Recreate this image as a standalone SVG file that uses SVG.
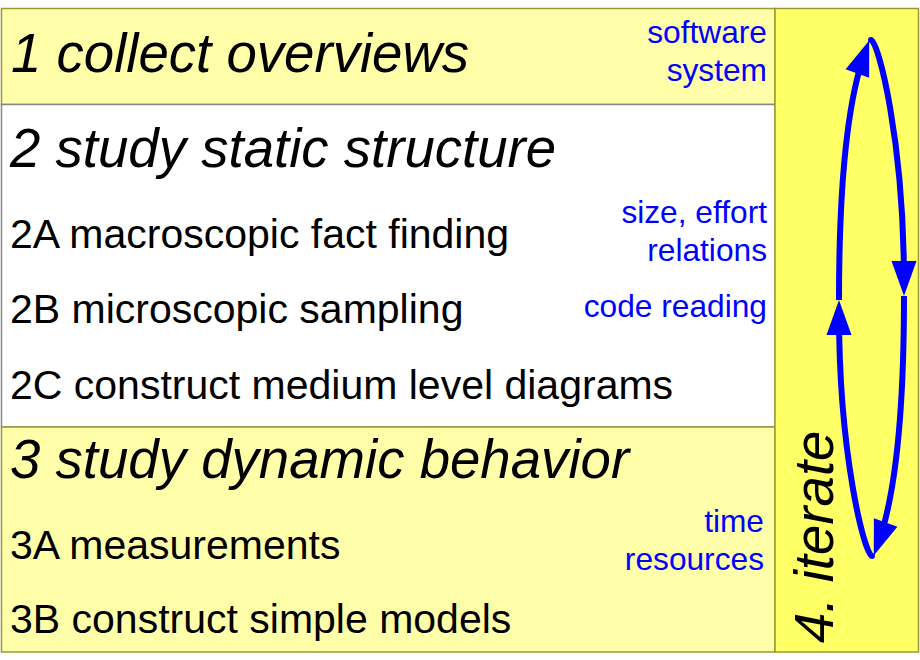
<svg xmlns="http://www.w3.org/2000/svg" width="920" height="660" viewBox="0 0 920 660">
<style>
  .title { font-family: "Liberation Sans", Arial, sans-serif; font-size: 54.6px; font-style: italic; fill: #000; }
  .item { font-family: "Liberation Sans", Arial, sans-serif; font-size: 41px; fill: #000; }
  .note { font-family: "Liberation Sans", Arial, sans-serif; font-size: 31.7px; fill: #0000ff; text-anchor: end; }
  .yellow { fill: #ffffaa; stroke: #999933; stroke-width: 1.5; }
  .white { fill: #ffffff; stroke: #888888; stroke-width: 1.5; }
  .col { fill: #ffff66; stroke: #999933; stroke-width: 1.5; }
  .loop { fill: none; stroke: #0000ff; stroke-width: 6; marker-end: url(#head); }
  .capped { stroke-linecap: round; }
</style>
<defs>
  <marker id="head" markerUnits="userSpaceOnUse" markerWidth="36" markerHeight="26" refX="22" refY="12.5" orient="auto" overflow="visible">
    <path d="M0,0 L35,12.5 L0,25 Z" fill="#0000ff"/>
  </marker>
</defs>
<rect x="0" y="0" width="920" height="660" fill="#ffffff"/>
<g id="step1">
  <rect class="yellow" x="1.5" y="8.5" width="773.5" height="96"/>
  <text class="title" x="11" y="72">1 collect overviews</text>
  <text class="note" x="767" y="43">software</text>
  <text class="note" x="767" y="81">system</text>
</g>
<g id="step2">
  <rect class="white" x="1.5" y="104.5" width="773.5" height="322.5"/>
  <text class="title" x="10" y="167">2 study static structure</text>
  <text class="item" x="10" y="248">2A macroscopic fact finding</text>
  <text class="item" x="10" y="323">2B microscopic sampling</text>
  <text class="item" x="10" y="399">2C construct medium level diagrams</text>
  <text class="note" x="767" y="223">size, effort</text>
  <text class="note" x="767" y="261">relations</text>
  <text class="note" x="767" y="317">code reading</text>
</g>
<g id="step3">
  <rect class="yellow" x="1.5" y="427" width="773.5" height="225"/>
  <text class="title" x="10" y="478">3 study dynamic behavior</text>
  <text class="item" x="10" y="559">3A measurements</text>
  <text class="item" x="10" y="633">3B construct simple models</text>
  <text class="note" x="764" y="532">time</text>
  <text class="note" x="764" y="570">resources</text>
</g>
<g id="step4">
  <rect class="col" x="775" y="8.5" width="143.5" height="643.5"/>
  <text class="title" transform="translate(833,643) rotate(-90)">4. iterate</text>
</g>
<g id="connectors">
  <path class="loop" d="M839,300 C839,190 846,105 864.8,52.8"/>
  <path class="loop capped" d="M871,40 C878,40 904,140 904,283"/>
  <path class="loop" d="M904,296 C904,406 897,491 878.2,543.2"/>
  <path class="loop capped" d="M872,556 C865,556 839,456 839,313"/>
</g>
</svg>
